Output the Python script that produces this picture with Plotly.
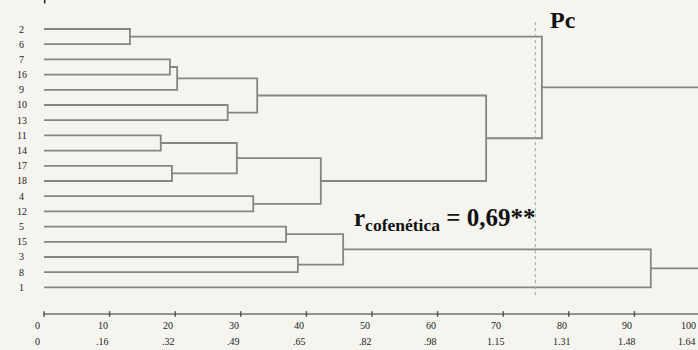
import plotly.graph_objects as go

# Leaf order, top to bottom
leaves = ["2", "6", "7", "16", "9", "10", "13", "11", "14", "17", "18",
          "4", "12", "5", "15", "3", "8", "1"]

# Agglomeration steps: (cluster name, left member, right member, linkage height)
merges = [
    ("A", "2", "6", 13.1),
    ("B", "7", "16", 19.2),
    ("C", "B", "9", 20.3),
    ("D", "10", "13", 28.0),
    ("E", "C", "D", 32.5),
    ("F", "11", "14", 17.8),
    ("G", "17", "18", 19.5),
    ("H", "F", "G", 29.4),
    ("I", "4", "12", 31.9),
    ("J", "H", "I", 42.2),
    ("K", "E", "J", 67.4),
    ("L", "A", "K", 75.9),
    ("M", "5", "15", 36.9),
    ("N", "3", "8", 38.7),
    ("O", "M", "N", 45.6),
    ("P", "O", "1", 92.5),
    ("Q", "L", "P", 100.5),
]

# Scale: top row in %, bottom row the matching distance
tick_vals = [0, 10, 20, 30, 40, 50, 60, 70, 80, 90, 100]
tick_pct = ["0", "10", "20", "30", "40", "50", "60", "70", "80", "90", "100"]
tick_dist = ["0", ".16", ".32", ".49", ".65", ".82", ".98", "1.15", "1.31", "1.48", "1.64"]

cut_value = 74.9          # Pc cut-off line
r_coph = "0,69**"

LINE = "#858585"
TXT = "#222222"
SERIF = "Liberation Serif"
PX = 6.56                 # pixels per scale unit
X_MIN, X_MAX = -44 / PX, 654 / PX
label_offset = 7 / PX     # scale labels sit slightly left of their ticks

# node positions: (height, vertical position)
pos = {name: (0.0, i) for i, name in enumerate(leaves)}
xs, ys = [], []
for name, a, b, h in merges:
    ha, ya = pos[a]
    hb, yb = pos[b]
    xs += [ha, h, h, hb, None]
    ys += [ya, ya, yb, yb, None]
    pos[name] = (h, (ya + yb) / 2)

axis_y = 18.75

fig = go.Figure()
fig.add_trace(go.Scatter(x=xs, y=ys, mode="lines",
                         line=dict(color=LINE, width=1.8),
                         hoverinfo="skip", showlegend=False))

# cut-off line
fig.add_trace(go.Scatter(x=[cut_value, cut_value], y=[-0.45, 17.6], mode="lines",
                         line=dict(color="#a0a0a0", width=1, dash="dot"),
                         hoverinfo="skip", showlegend=False))

# scale bar
fig.add_trace(go.Scatter(x=[0, 101], y=[axis_y, axis_y], mode="lines",
                         line=dict(color="#6f6f6f", width=1.5),
                         hoverinfo="skip", showlegend=False))
fig.add_trace(go.Scatter(x=tick_vals, y=[axis_y] * len(tick_vals), mode="markers",
                         marker=dict(symbol="line-ns", size=4,
                                     line=dict(color="#555555", width=1.5)),
                         hoverinfo="skip", showlegend=False))

annotations = []
for i, lab in enumerate(leaves):
    annotations.append(dict(x=-3.4, y=i, text=lab, showarrow=False,
                            font=dict(family=SERIF, size=10, color=TXT)))
for v, p, d in zip(tick_vals, tick_pct, tick_dist):
    # keep the last pair inside the right edge
    if v - label_offset + 2.0 > X_MAX:
        ax, anchor = X_MAX - 0.05, "right"
    else:
        ax, anchor = v - label_offset, "center"
    annotations.append(dict(x=ax, y=axis_y, text=p, showarrow=False, xanchor=anchor,
                            yshift=-12, font=dict(family=SERIF, size=10, color=TXT)))
    annotations.append(dict(x=ax, y=axis_y, text=d, showarrow=False, xanchor=anchor,
                            yshift=-28, font=dict(family=SERIF, size=10, color=TXT)))

annotations.append(dict(x=79.1, y=-0.6, text="<b>Pc</b>", showarrow=False,
                        font=dict(family=SERIF, size=24, color="#111111")))
annotations.append(dict(x=46.9, y=12.55, xanchor="left",
                        text="<b>r<sub>cofenética</sub> = " + r_coph + "</b>",
                        showarrow=False,
                        font=dict(family=SERIF, size=25, color="#111111")))

fig.update_layout(
    width=698, height=350,
    margin=dict(l=0, r=0, t=0, b=0),
    paper_bgcolor="#f5f4ef", plot_bgcolor="#f5f4ef",
    xaxis=dict(range=[X_MIN, X_MAX], visible=False, fixedrange=True),
    yaxis=dict(range=[21.12, -1.908], visible=False, fixedrange=True),
    annotations=annotations,
    shapes=[dict(type="line", x0=0.1, x1=0.1, y0=-1.908, y1=-1.68,
                 line=dict(color="#222222", width=1.5))],
)

fig.write_html("out.html")
